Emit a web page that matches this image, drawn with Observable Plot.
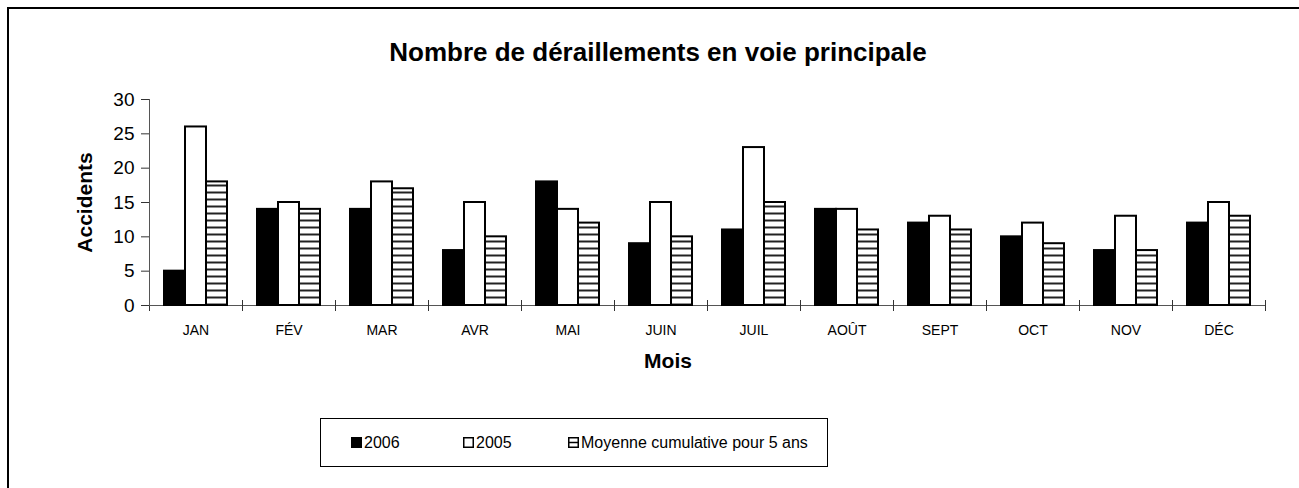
<!DOCTYPE html>
<html><head><meta charset="utf-8">
<script src="https://cdn.jsdelivr.net/npm/d3@7"></script>
<script src="https://cdn.jsdelivr.net/npm/@observablehq/plot@0.6"></script>
<style>
html,body{margin:0;padding:0;background:#fff;font-family:"Liberation Sans",Arial,sans-serif;color:#000;overflow:hidden}
#wrap{position:relative;width:1299px;height:488px;overflow:hidden;background:#fff}
#borders{position:absolute;left:0;top:0}
#title{position:absolute;left:17px;width:1282px;top:37px;text-align:center;font-size:26px;font-weight:bold;line-height:normal;white-space:nowrap}
#chart{position:absolute;left:0;top:0}
#xlabel{position:absolute;left:568px;width:200px;top:349px;text-align:center;font-size:21px;font-weight:bold;line-height:normal}
#legend{position:absolute;left:320px;top:418px;width:506px;height:47px;border:1px solid #000;background:#fff}
.item{position:absolute;top:0;height:47px;display:flex;align-items:center;font-size:16px;white-space:nowrap}
.item svg{margin-right:2px}
#mask{position:absolute;left:1290px;top:10px;width:9px;height:478px;background:#fff;z-index:10}
</style></head>
<body>
<div id="wrap">
  <svg id="borders" width="1299" height="488">
    <defs>
      <pattern id="hatch" patternUnits="userSpaceOnUse" width="12" height="7">
        <rect width="12" height="7" fill="#fff"></rect>
        <line x1="0" x2="12" y1="3.5" y2="3.5" stroke="#222" stroke-width="2"></line>
      </pattern>
      <pattern id="hatchSwatch" patternUnits="userSpaceOnUse" width="11" height="11">
        <rect width="11" height="11" fill="#fff"></rect>
        <line x1="0" x2="11" y1="5.5" y2="5.5" stroke="#000" stroke-width="1.5"></line>
      </pattern>
    </defs>
    <path d="M8,488V8H1299" fill="none" stroke="#000" stroke-width="2"></path>
  </svg>
  <div id="chart"></div>
  <div id="title">Nombre de déraillements en voie principale</div>
  <div id="xlabel">Mois</div>
  <div id="legend"></div>
  <div id="mask"></div>
</div>
<script>
const months = ["JAN","FÉV","MAR","AVR","MAI","JUIN","JUIL","AOÛT","SEPT","OCT","NOV","DÉC"];
const series = ["2006","2005","Moyenne cumulative pour 5 ans"];
const values2006 = [5,14,14,8,18,9,11,14,12,10,8,12];
const values2005 = [26,15,18,15,14,15,23,14,13,12,13,15];
const valuesAvg = [18,14,17,10,12,10,15,11,11,9,8,13];
const yTicks = [0,5,10,15,20,25,30];
const seriesFills = ["#000","#fff","url(#hatch)"];
const swatchFills = ["#000","#fff","url(#hatchSwatch)"];

const seriesValues = [values2006, values2005, valuesAvg];
const data = [];
months.forEach((m, i) => series.forEach((s, j) => data.push({month: m, series: s, value: seriesValues[j][i]})));

const W = 1299, H = 400, mT = 99, mB = 95, mL = 147, mR = 32;
const innerH = H - mT - mB;

const chart = Plot.plot({
  width: W, height: H,
  marginTop: mT, marginBottom: mB, marginLeft: mL, marginRight: mR,
  style: {fontFamily: "'Liberation Sans', Arial, sans-serif", background: "transparent", color: "#000", overflow: "visible"},
  fx: {domain: months, padding: 0, label: null},
  x: {domain: series, paddingInner: 0, paddingOuter: 0.7, axis: null},
  y: {domain: [0, 30], ticks: yTicks},
  color: {domain: series, range: seriesFills},
  marks: [
    Plot.ruleY([0], {stroke: "#555", strokeWidth: 1}),
    Plot.frame({anchor: "left", stroke: "#333", insetTop: innerH - 5, insetBottom: -5}),
    Plot.frame({anchor: "right", stroke: "#333", insetTop: innerH - 5, insetBottom: -5}),
    Plot.frame({anchor: "left", facetAnchor: "left", stroke: "#555"}),
    Plot.barY(data, {fx: "month", x: "series", y: "value", fill: "series", stroke: "#000", strokeWidth: 2}),
    Plot.axisY({ticks: yTicks, tickSize: 8, tickPadding: 7, fontSize: 19, stroke: "#333", label: null}),
    Plot.axisY({ticks: [], label: "Accidents", labelAnchor: "center", labelOffset: 72, labelArrow: "none", fontSize: 21, fontWeight: "bold"}),
    Plot.axisFx({anchor: "bottom", tickSize: 0, tickPadding: 20, fontSize: 14, label: null})
  ]
});
document.getElementById("chart").appendChild(chart);

// legend built from series
const legendX = [30, 142, 247];
const legend = document.getElementById("legend");
series.forEach((s, j) => {
  const item = document.createElement("div");
  item.className = "item";
  item.style.left = legendX[j] + "px";
  item.innerHTML = `<svg width="11" height="11"><rect x="0.75" y="0.75" width="9.5" height="9.5" fill="${swatchFills[j]}" stroke="#000" stroke-width="1.5"></rect></svg><span>${s}</span>`;
  legend.appendChild(item);
});
</script>
</body></html>
